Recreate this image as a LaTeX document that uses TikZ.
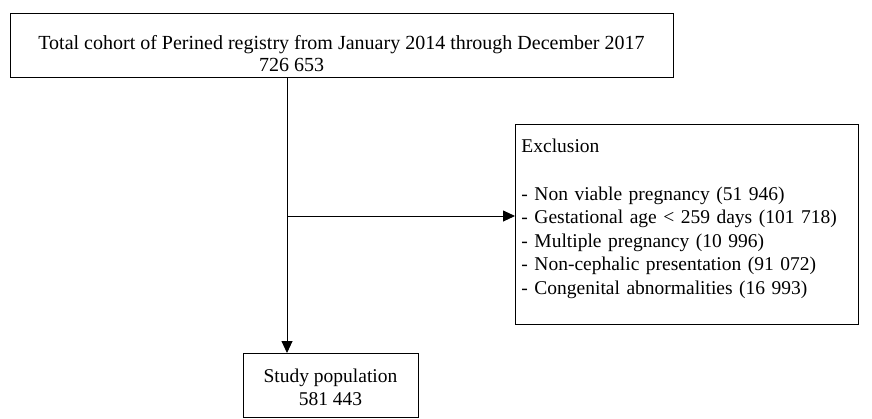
\documentclass[tikz,border=0pt]{standalone}
\usepackage{fontspec}
\setmainfont{Liberation Serif}
\usepackage{tikz}
\usetikzlibrary{positioning,calc,arrows.meta}
\tikzset{
  box-style/.style = {
    rectangle, draw, line width=0.9pt,
    inner sep=0pt,
    font=\fontsize{19.5}{23.5}\selectfont
  },
  cohort-style/.style = {
    box-style, align=center,
    font=\fontsize{20}{21.5}\selectfont,
    minimum width=663pt, minimum height=64pt
  },
  exclusion-style/.style = {
    box-style, align=left, anchor=north west,
    text width=331pt, minimum height=200pt,
    inner xsep=6pt, inner ysep=0pt
  },
  study-style/.style = {
    box-style, align=center, anchor=north,
    minimum width=175pt, minimum height=64pt
  },
  flow-style/.style = {
    draw, line width=0.9pt,
    -{Triangle[length=12pt,width=11pt]}
  }
}
\begin{document}
\begin{tikzpicture}[x=1pt,y=-1pt]
  \useasboundingbox (0,0) rectangle (872,418);

  \node[cohort-style] (total) at (341.5,45)
    {\rule{0pt}{31pt}Total cohort of Perined registry from January 2014 through December 2017\\
     726 653\hspace*{100pt}};

  \coordinate (split) at (287,216);

  \node[exclusion-style] (exclusion) at (515,124)
    {Exclusion\\[24pt]
     - Non viable pregnancy (51 946)\\
     - Gestational age < 259 days (101 718)\\
     - Multiple pregnancy (10 996)\\
     - Non-cephalic presentation (91 072)\\
     - Congenital abnormalities (16 993)\rule[-15pt]{0pt}{15pt}};

  \node[study-style] (study) at (330.5,353)
    {\rule{0pt}{17pt}Study population\\581 443};

  \draw[flow-style] (total.south -| split) -- (split |- study.north);
  \draw[flow-style] (split) -- (split -| exclusion.west);
\end{tikzpicture}
\end{document}
